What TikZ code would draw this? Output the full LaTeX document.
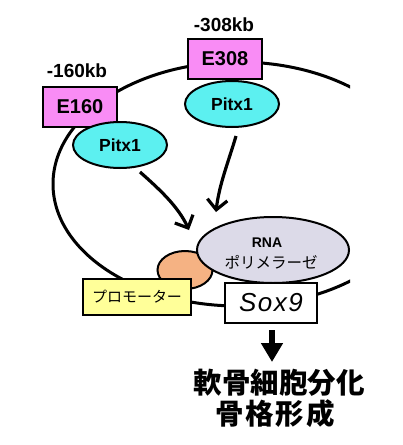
\documentclass[tikz,border=0pt]{standalone}
\usepackage{fontspec}
\setmainfont{Liberation Sans}
\newfontfamily\jp{Noto Sans CJK JP}
\usetikzlibrary{arrows.meta,shapes.geometric}
\definecolor{enhpink}{HTML}{F98CF5}
\definecolor{pitcyan}{HTML}{5CF0F0}
\definecolor{polgray}{HTML}{DCDAE8}
\definecolor{orangeb}{HTML}{F5B283}
\definecolor{promyel}{HTML}{FFFF99}
\tikzset{
  enh/.style={draw=black,line width=2.2pt,fill=enhpink,minimum width=74pt,minimum height=40pt,inner sep=0pt,font=\bfseries\fontsize{20}{22}\selectfont},
  pit/.style={ellipse,draw=black,line width=2pt,fill=pitcyan,minimum width=94pt,minimum height=46pt,inner sep=0pt,font=\bfseries\fontsize{17.5}{19}\selectfont},
  kb/.style={font=\bfseries\fontsize{19}{21}\selectfont,inner sep=0pt},
  act/.style={line width=3.2pt,-{Straight Barb[length=10pt,width=20pt,line width=3.2pt]}},
  loopline/.style={line width=3pt}
}
\begin{document}
\begin{tikzpicture}[x=1pt,y=-1pt]
\useasboundingbox (0,0) rectangle (403,445);
\begin{scope}
  \clip (0,0) rectangle (350,445);
  \draw[loopline] (238,184) ellipse [x radius=185, y radius=122];
\end{scope}
% enhancers
\node[enh] (e308) at (225,59) {E308};
\node[enh] (e160) at (80,107) {E160};
\node[kb] (k308) at (224,25) {-308kb};
\node[kb] (k160) at (77,71) {-160kb};
\node[pit] (p308) at (232,104) {Pitx1};
\node[pit] (p160) at (120,145) {Pitx1};
% promoter complex
\node[ellipse,draw=black,line width=2pt,fill=orangeb,minimum width=55pt,minimum height=38pt,inner sep=0pt] (orb) at (185,270) {};
\node[ellipse,draw=black,line width=2pt,fill=polgray,minimum width=152pt,minimum height=66pt,inner sep=0pt] (pol) at (273,250) {};
\node[font=\bfseries\fontsize{14}{15}\selectfont,inner sep=0pt] (rna) at (267,243) {RNA};
\node[font=\jp\fontsize{15.5}{17}\selectfont,inner sep=0pt] (polj) at (271,262) {ポリメラーゼ};
\node[draw=black,line width=2pt,fill=promyel,minimum width=108pt,minimum height=36pt,inner sep=0pt,font=\jp\fontsize{15}{17}\selectfont] (prom) at (137,297) {プロモーター};
\node[draw=black,line width=2pt,fill=white,minimum width=92pt,minimum height=40pt,inner sep=0pt,font=\itshape\fontsize{26}{28}\selectfont] (sox) at (271,303) {S\kern1.5pt o\kern1.5pt x\kern1.5pt 9};
% arrows from Pitx1
\coordinate (s1) at (140,172);
\coordinate (t1) at (189,230);
\coordinate (s2) at (236,136);
\coordinate (t2) at (216,212);
\draw[act] (s1) .. controls (158,188) and (178,206) .. (t1);
\draw[act] (s2) .. controls (229,160) and (219,185) .. (t2);
% output
\coordinate (a0) at (272,330);
\node[font=\jp\bfseries\fontsize{28.5}{30}\selectfont,inner sep=0pt] (out1) at (279,383) {軟骨細胞分化};
\node[font=\jp\bfseries\fontsize{28.5}{30}\selectfont,inner sep=0pt] (out2) at (275,414) {骨\kern2pt 格\kern2pt 形\kern2pt 成};
\coordinate (a1) at (272,362);
\draw[line width=6pt,-{Triangle[length=19pt,width=21pt]}] (a0) -- (a1);
\end{tikzpicture}
\end{document}
